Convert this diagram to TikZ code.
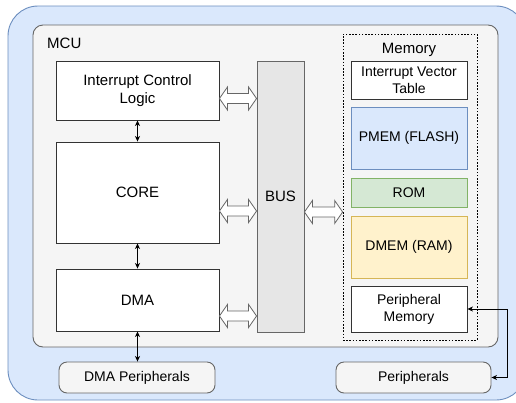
\documentclass[tikz,border=0pt]{standalone}
\usepackage{fontspec}
\setmainfont{Liberation Sans}
\usetikzlibrary{arrows.meta,calc}
\definecolor{blueF}{HTML}{DAE8FC}
\definecolor{blueS}{HTML}{6C8EBF}
\definecolor{greenF}{HTML}{D5E8D4}
\definecolor{greenS}{HTML}{82B366}
\definecolor{yellowF}{HTML}{FFF2CC}
\definecolor{yellowS}{HTML}{D6B656}
\definecolor{greyF}{HTML}{F5F5F5}
\definecolor{greyS}{HTML}{666666}
\definecolor{busF}{HTML}{E6E6E6}
\definecolor{lineC}{HTML}{333333}
\newcommand\hollowarrow[3]{%
  \draw[hollow] let \p1=(#1), \p2=(#2) in
    (\x1,-#3pt) -- ({\x1+8pt},{-#3pt+11.5pt}) -- ({\x1+8pt},{-#3pt+5pt})
    -- ({\x2-8pt},{-#3pt+5pt}) -- ({\x2-8pt},{-#3pt+11.5pt}) -- (\x2,-#3pt)
    -- ({\x2-8pt},{-#3pt-11.5pt}) -- ({\x2-8pt},{-#3pt-5pt})
    -- ({\x1+8pt},{-#3pt-5pt}) -- ({\x1+8pt},{-#3pt-11.5pt}) -- cycle;}
\begin{document}
\begin{tikzpicture}[x=1pt,y=-1pt,
  lf/.style={font=\fontsize{15}{18}\selectfont},
  sf/.style={font=\fontsize{14}{17}\selectfont},
  wbox/.style={draw=lineC, fill=white, line width=0.9pt, inner sep=0pt, align=center, lf},
  mbox/.style={draw=lineC, fill=white, line width=0.9pt, inner sep=0pt, align=center, sf, minimum width=116},
  pbox/.style={draw=greyS, fill=greyF, line width=0.9pt, rounded corners=8, inner sep=0pt, align=center, sf, minimum height=31},
  hollow/.style={draw=greyS, fill=white, line width=0.8pt, line join=miter},
  thinarr/.style={draw=black, line width=0.8pt, {Stealth[length=5.5pt,width=5pt,inset=1.5pt]}-{Stealth[length=5.5pt,width=5pt,inset=1.5pt]}}
]
\useasboundingbox (0,0) rectangle (516,402);
% outer container
\draw[fill=blueF, draw=blueS, line width=0.9pt, rounded corners=30] (8,6) rectangle (526,400);
% MCU container
\draw[fill=greyF, draw=greyS, line width=0.9pt, rounded corners=10] (33,25) rectangle (498,347);
\node[lf, anchor=base west, inner sep=0pt] (mcu) at (47,48) {MCU};

\node[wbox, minimum width=163, minimum height=59] (icl) at (137.5,90.5) {Interrupt Control\\Logic};
\node[wbox, minimum width=163, minimum height=101] (core) at (137.5,192.5) {CORE};
\node[wbox, minimum width=163, minimum height=62] (dma) at (137.5,300) {DMA};
\node[wbox, fill=busF, draw=greyS, minimum width=47, minimum height=271] (bus) at (280.5,196.5) {BUS};

% memory group
\node[draw=black, line width=0.7pt, dash pattern=on 1.6pt off 1.6pt, minimum width=134, minimum height=306, inner sep=0pt] (mem) at (410,187) {};
\node[lf, anchor=base, inner sep=0pt] (memlbl) at (409,53) {Memory};
\node[mbox, minimum height=38] (ivt) at (409,80) {Interrupt Vector\\Table};
\node[mbox, fill=blueF, draw=blueS, minimum height=62] (pmem) at (409,138) {PMEM (FLASH)};
\node[mbox, fill=greenF, draw=greenS, minimum height=29] (rom) at (409,192.5) {ROM};
\node[mbox, fill=yellowF, draw=yellowS, minimum height=62] (dmem) at (409,247) {DMEM (RAM)};
\node[mbox, minimum height=46] (pm) at (409,309) {Peripheral\\Memory};

% peripherals
\node[pbox, minimum width=156] (dmaper) at (137,377.5) {DMA Peripherals};
\node[pbox, minimum width=155] (per) at (413.5,377.5) {Peripherals};

% block arrows
\hollowarrow{icl.east}{bus.west}{98.5}
\hollowarrow{core.east}{bus.west}{211}
\hollowarrow{dma.east}{bus.west}{316}
\hollowarrow{bus.east}{mem.west}{212}

% thin arrows
\draw[thinarr] (icl.south) -- (core.north);
\draw[thinarr] (core.south) -- (dma.north);
\draw[thinarr] (dma.south) -- (dma.south |- dmaper.north);
\coordinate (turn) at (507,309);
\draw[thinarr] (pm.east) -- (turn) |- (per.east);
\end{tikzpicture}
\end{document}
